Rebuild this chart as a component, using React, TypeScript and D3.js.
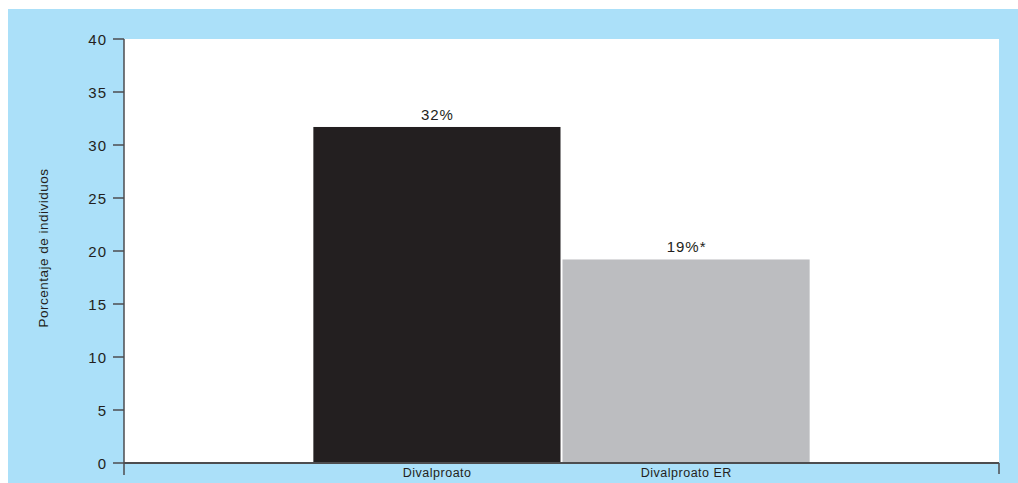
import { scaleBand, scaleLinear } from 'd3'

// Single-measure bar chart: two adjacent bars on a white plot inset in a
// light-blue panel, axis ticks on the left, category names under the axis.

const categories = ['Divalproato', 'Divalproato ER']
const values = [31.7, 19.2]
const valueLabels = ['32%', '19%*']
const yTicks = [0, 5, 10, 15, 20, 25, 30, 35, 40]
const yTitle = 'Porcentaje de individuos'

const PANEL = '#abe0f9'
const AXIS = '#4d4d4f'
const INK = '#231f20'
const BAR_COLORS = ['#231f20', '#bcbdc0']
const FONT = '"Liberation Sans", Arial, Helvetica, sans-serif'

export default function App() {
  const width = 1018
  const height = 483
  const plot = { left: 124, right: 999, top: 39, bottom: 463 }

  const x = scaleBand()
    .domain(categories)
    .range([plot.left, plot.right])
    .paddingInner(0.008)
    .paddingOuter(0.76)
  const y = scaleLinear().domain([0, 40]).range([plot.bottom, plot.top])

  return (
    <svg
      width={width}
      height={height}
      style={{ position: 'absolute', left: 0, top: 0 }}
      fontFamily={FONT}
    >
      <rect x={8} y={9} width={width - 8} height={height - 9} fill={PANEL} />
      <rect
        x={plot.left}
        y={plot.top}
        width={plot.right - plot.left}
        height={plot.bottom - plot.top}
        fill="#fff"
      />

      {categories.map((c, i) => {
        const bx = x(c) ?? 0
        const bw = x.bandwidth()
        return (
          <g key={c}>
            <rect x={bx} y={y(values[i])} width={bw} height={plot.bottom - y(values[i])} fill={BAR_COLORS[i]} />
            <text
              x={bx + bw / 2 + 0.5}
              y={y(values[i]) - 7}
              textAnchor="middle"
              fontSize={15}
              letterSpacing={1}
              fill={INK}
            >
              {valueLabels[i]}
            </text>
            <text
              x={bx + bw / 2 + 0.25}
              y={477}
              textAnchor="middle"
              fontSize={12.5}
              letterSpacing={0.5}
              fill={INK}
            >
              {c}
            </text>
          </g>
        )
      })}

      {/* y axis */}
      <line x1={plot.left} x2={plot.left} y1={plot.top} y2={plot.bottom + 12} stroke={AXIS} strokeWidth={1.5} />
      {yTicks.map((t) => (
        <g key={t}>
          <line x1={plot.left - 11} x2={plot.left} y1={y(t)} y2={y(t)} stroke={AXIS} strokeWidth={1.5} />
          <text
            x={107}
            y={y(t) + 5.5}
            textAnchor="end"
            fontSize={15}
            letterSpacing={1}
            fill={INK}
          >
            {t}
          </text>
        </g>
      ))}

      {/* x axis */}
      <line x1={plot.left} x2={plot.right} y1={plot.bottom} y2={plot.bottom} stroke={AXIS} strokeWidth={2} />
      <line x1={plot.right} x2={plot.right} y1={plot.bottom} y2={plot.bottom + 11} stroke={AXIS} strokeWidth={1.5} />

      <text
        transform={`translate(48, 248) rotate(-90)`}
        textAnchor="middle"
        fontSize={13.5}
        letterSpacing={0.5}
        fill={INK}
      >
        {yTitle}
      </text>
    </svg>
  )
}
